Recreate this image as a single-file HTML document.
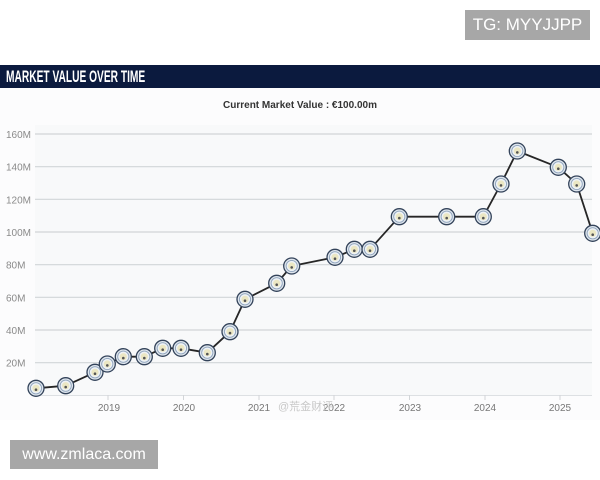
<!DOCTYPE html>
<html><head><meta charset="utf-8"><style>
html,body{margin:0;padding:0;background:#fff;}
body{width:600px;height:480px;position:relative;overflow:hidden;font-family:"Liberation Sans","Noto Sans CJK SC",sans-serif;}
.tg{position:absolute;left:465px;top:10px;width:125px;height:30px;background:#a7a7a7;color:#fff;font-size:17px;line-height:30px;text-align:center;}
.www{position:absolute;left:10px;top:440px;width:148px;height:29px;background:#a7a7a7;color:#fff;font-size:16px;line-height:29px;text-align:center;}
.bar{position:absolute;left:0;top:65px;width:600px;height:23px;background:#0b1a3e;}
.bar span{position:absolute;left:6px;top:2px;color:#fff;font-weight:bold;font-size:17px;line-height:20px;transform:scaleX(0.6);transform-origin:left center;white-space:nowrap;}
svg{position:absolute;left:0;top:0;}
</style></head><body>
<div class="tg">TG: MYYJJPP</div>
<div class="bar"><span>MARKET VALUE OVER TIME</span></div>
<svg width="600" height="480" viewBox="0 0 600 480">
<defs>
<g id="m">
<circle r="8" fill="#dfe6ee" stroke="#33435a" stroke-width="1.3"/>
<circle r="5.6" fill="#eef2f6" stroke="#8ea3bb" stroke-width="0.9"/>
<circle r="3.6" fill="#ebe7c3"/>
<circle cy="1.4" r="1.3" fill="#555"/>
</g>
</defs>
<rect x="0" y="88" width="600" height="332" fill="#fcfcfd"/>
<rect x="35" y="125" width="557" height="271" fill="#f8f9fa"/>
<text x="300" y="108" text-anchor="middle" font-size="10" font-weight="bold" fill="#333">Current Market Value : €100.00m</text>
<g stroke="#d2d5d8" stroke-width="1.2">
<line x1="35" x2="592" y1="134" y2="134"/>
<line x1="35" x2="592" y1="166.7" y2="166.7"/>
<line x1="35" x2="592" y1="199.3" y2="199.3"/>
<line x1="35" x2="592" y1="232" y2="232"/>
<line x1="35" x2="592" y1="264.7" y2="264.7"/>
<line x1="35" x2="592" y1="297.3" y2="297.3"/>
<line x1="35" x2="592" y1="330" y2="330"/>
<line x1="35" x2="592" y1="362.7" y2="362.7"/>
</g>
<line x1="35" x2="592" y1="395.5" y2="395.5" stroke="#dde0e3" stroke-width="1"/>
<g stroke="#d2d5d8" stroke-width="1">
<line x1="108" x2="108" y1="395" y2="400"/>
<line x1="183.5" x2="183.5" y1="395" y2="400"/>
<line x1="259" x2="259" y1="395" y2="400"/>
<line x1="334" x2="334" y1="395" y2="400"/>
<line x1="409.5" x2="409.5" y1="395" y2="400"/>
<line x1="485" x2="485" y1="395" y2="400"/>
<line x1="560" x2="560" y1="395" y2="400"/>
</g>
<g font-size="10" fill="#8a8a8a">
<text x="6" y="138">160M</text>
<text x="6" y="170.7">140M</text>
<text x="6" y="203.3">120M</text>
<text x="6" y="236">100M</text>
<text x="6" y="268.7">80M</text>
<text x="6" y="301.3">60M</text>
<text x="6" y="334">40M</text>
<text x="6" y="366.7">20M</text>
</g>
<g font-size="10" fill="#777" text-anchor="middle">
<text x="109" y="411">2019</text>
<text x="184" y="411">2020</text>
<text x="259" y="411">2021</text>
<text x="334" y="411">2022</text>
<text x="410" y="411">2023</text>
<text x="485" y="411">2024</text>
<text x="560" y="411">2025</text>
</g>
<text x="278" y="410" font-size="11" fill="#c8c8c8">@荒金财评</text>
<polyline fill="none" stroke="#262626" stroke-width="1.8" stroke-linejoin="round" points="36,388.3 65.7,385.7 95,372.3 107.3,364 123.3,356.7 144.3,356.7 162.7,348.3 181,348.3 207.3,352.7 230,331.7 245,299.3 276.7,283.3 291.7,266 335,257.3 354.3,249.3 370,249.3 399.3,216.7 446.7,216.7 483.3,216.7 501,184 517.3,151 558.3,167.3 576.7,184 592.7,233.3"/>
<g>
<use href="#m" x="36" y="388.3"/>
<use href="#m" x="65.7" y="385.7"/>
<use href="#m" x="95" y="372.3"/>
<use href="#m" x="107.3" y="364"/>
<use href="#m" x="123.3" y="356.7"/>
<use href="#m" x="144.3" y="356.7"/>
<use href="#m" x="162.7" y="348.3"/>
<use href="#m" x="181" y="348.3"/>
<use href="#m" x="207.3" y="352.7"/>
<use href="#m" x="230" y="331.7"/>
<use href="#m" x="245" y="299.3"/>
<use href="#m" x="276.7" y="283.3"/>
<use href="#m" x="291.7" y="266"/>
<use href="#m" x="335" y="257.3"/>
<use href="#m" x="354.3" y="249.3"/>
<use href="#m" x="370" y="249.3"/>
<use href="#m" x="399.3" y="216.7"/>
<use href="#m" x="446.7" y="216.7"/>
<use href="#m" x="483.3" y="216.7"/>
<use href="#m" x="501" y="184"/>
<use href="#m" x="517.3" y="151"/>
<use href="#m" x="558.3" y="167.3"/>
<use href="#m" x="576.7" y="184"/>
<use href="#m" x="592.7" y="233.3"/>
</g>
</svg>
<div class="www">www.zmlaca.com</div>
</body></html>
